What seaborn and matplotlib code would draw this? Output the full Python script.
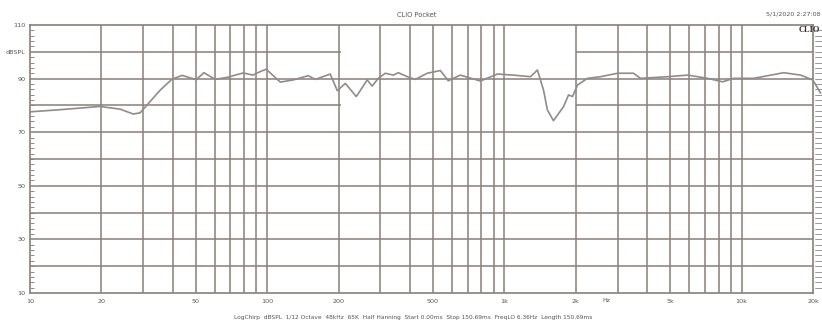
import matplotlib
matplotlib.use("Agg")
import matplotlib.pyplot as plt
import seaborn as sns
import numpy as np
import pandas as pd

# ---- data ----
freq_hz = [10, 13.4, 19.7, 24, 27.2, 29.1, 35.4, 39.7, 43.8, 50.2, 54.1, 60.4, 69, 73.3,
           79.2, 87.1, 93.4, 99, 113.5, 128.7, 149, 159.4, 184.4, 197.5, 213.5, 237.5,
           264, 277, 294, 315, 340, 357, 390, 421, 473, 537, 580, 652, 792, 934, 1092,
           1288, 1378, 1462, 1518, 1610, 1775, 1864, 1937, 2033, 2240, 2541, 2999, 3501,
           3749, 4874, 5916, 7190, 8318, 9254, 11250, 15040, 17750, 19950, 21540]
spl_db = [77.6, 78.4, 79.6, 78.6, 76.8, 77.2, 85.7, 89.8, 91.2, 89.6, 92.2, 89.7, 90.6, 91.3,
          92.1, 91.3, 92.6, 93.5, 88.7, 89.5, 91.1, 89.7, 91.7, 85.5, 88.2, 83.3,
          89.5, 87.2, 90.1, 92.0, 91.3, 92.2, 90.7, 89.7, 92.0, 93.0, 89.2, 91.3, 89.1, 91.7, 91.3,
          90.7, 93.2, 85.7, 78.3, 74.3, 79.5, 83.9, 83.3, 87.6, 90.1, 90.7, 92.0, 92.0,
          90.1, 90.7, 91.3, 90.1, 88.8, 90.1, 90.1, 92.2, 91.3, 89.5, 84.6]

x_tick_vals = [10, 20, 50, 100, 200, 500, 1000, 2000, 5000, 10000, 20000]
x_tick_labels = ["10", "20", "50", "100", "200", "500", "1k", "2k", "5k", "10k", "20k"]
y_tick_vals = [110, 100, 90, 70, 50, 30, 10]
y_tick_labels = ["110", "dBSPL", "90", "70", "50", "30", "10"]

title_text = "CLIO Pocket"
date_text = "5/1/2020 2:27:08"
footer_text = ("LogChirp  dBSPL  1/12 Octave  48kHz  65K  Half Hanning  Start 0.00ms  "
               "Stop 150.69ms  FreqLO 6.36Hz  Length 150.69ms")

df = pd.DataFrame({"freq": freq_hz, "spl": spl_db})

sns.set_theme(style="white")
plt.rcParams["font.family"] = ["DejaVu Sans"]

W, H = 822, 328
fig = plt.figure(figsize=(W / 100, H / 100), dpi=100)
fig.patch.set_facecolor("white")
x0, x1, ytop, ybot = 30, 813, 25, 293
ax = fig.add_axes([x0 / W, (H - ybot) / H, (x1 - x0) / W, (ybot - ytop) / H])
ax.set_facecolor("white")
ax.set_xscale("log")
ax.set_xlim(10, 20000)
ax.set_ylim(10, 110)

grid_c = "#8a7f7b"
# vertical grid lines (1..9 per decade up to 10k)
vlines = []
for dec in [10, 100, 1000]:
    for m in range(1, 10):
        vlines.append(dec * m)
vlines.append(10000)
for v in vlines[1:]:
    ax.axvline(v, color=grid_c, lw=1.1, zorder=1)

# horizontal grid lines every 10 dB (100 and 80 have a gap 200 Hz - 2 kHz)
for h in range(20, 110, 10):
    if h in (100, 80):
        ax.hlines(h, 10, 205, color=grid_c, lw=1.1, zorder=1)
        ax.hlines(h, 2000, 20000, color=grid_c, lw=1.1, zorder=1)
    else:
        ax.axhline(h, color=grid_c, lw=1.1, zorder=1)

sns.lineplot(data=df, x="freq", y="spl", ax=ax, color="#918b8b", lw=1.2,
             zorder=3, clip_on=False)

for s in ax.spines.values():
    s.set_color(grid_c)
    s.set_linewidth(1.2)

ax.set_xticks(x_tick_vals)
ax.set_xticklabels(x_tick_labels)
ax.xaxis.set_minor_locator(matplotlib.ticker.NullLocator())
ax.tick_params(axis="x", which="major", length=0, pad=4, labelsize=4.6, colors="#555555")
ax.set_yticks(y_tick_vals)
ax.set_yticklabels(y_tick_labels)
ax.tick_params(axis="y", which="major", length=0, pad=3, labelsize=4.6, colors="#555555")
ax.set_yticks(np.arange(10, 111, 2), minor=True)
ax.tick_params(axis="y", which="minor", direction="in", length=3, width=0.6,
               color="#777777", left=True, right=False)
ax.set_xlabel("")
ax.set_ylabel("")

# right side minor ticks outside
for yy in np.arange(12, 110, 2):
    ax.plot([1.003, 1.012], [yy, yy], transform=ax.get_yaxis_transform(),
            color="#888888", lw=0.6, clip_on=False)

fig.text(606 / W, 1 - 300 / H, "Hz", fontsize=4.6, color="#555555", ha="center", va="center")
fig.text(417 / W, 1 - 15 / H, title_text, fontsize=4.8, color="#555555", ha="center", va="center")
fig.text(820 / W, 1 - 14 / H, date_text, fontsize=4.6, color="#555555", ha="right", va="center")
fig.text(820 / W, 1 - 30 / H, "CLIO", fontsize=6, fontweight="bold", color="#333333",
         family=["Liberation Serif"], ha="right", va="center")
fig.text(413 / W, 1 - 318 / H, footer_text, fontsize=4.2, color="#555555", ha="center", va="center")

fig.savefig("out.png", dpi=100, facecolor="white")
